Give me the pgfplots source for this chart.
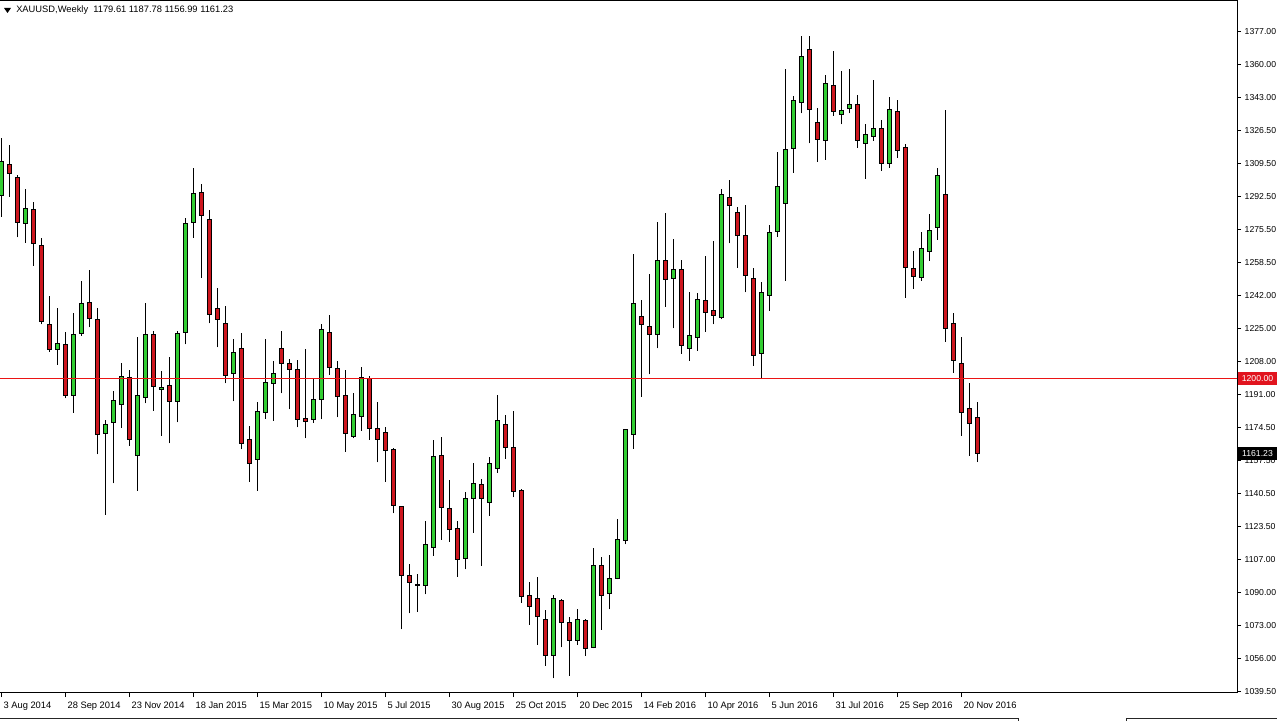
\documentclass[border=0pt]{standalone}
\usepackage{pgfplots}
\pgfplotsset{compat=1.18}
\usepackage{pgfplotstable}
\usepackage{fontspec}
\setmainfont{Liberation Sans}
\definecolor{bull}{RGB}{50,205,50}
\definecolor{bear}{RGB}{205,22,30}
\definecolor{hline}{RGB}{235,20,20}
\definecolor{hbox}{RGB}{225,20,30}

\pgfplotstableread{
i O H L C
0 1293.13 1322.79 1282.39 1310.67
1 1308.98 1319.21 1292.77 1304.74
2 1302.70 1303.87 1272.01 1279.68
3 1279.17 1296.56 1269.25 1286.84
4 1285.97 1290.22 1257.33 1268.94
5 1267.56 1271.50 1227.52 1228.85
6 1227.52 1241.99 1213.51 1214.38
7 1214.73 1235.70 1206.70 1217.80
8 1217.29 1223.43 1189.68 1191.00
9 1191.00 1233.14 1182.31 1222.40
10 1222.92 1249.66 1221.69 1238.26
11 1238.77 1255.29 1225.98 1230.59
12 1230.08 1235.70 1161.04 1170.91
13 1171.42 1178.58 1130.00 1176.38
14 1177.40 1193.41 1146.20 1188.45
15 1186.25 1207.88 1174.64 1200.72
16 1200.41 1204.15 1165.28 1168.71
17 1160.17 1220.87 1142.42 1190.85
18 1190.19 1238.57 1187.12 1222.40
19 1222.40 1224.09 1183.34 1195.61
20 1193.92 1203.79 1170.40 1195.10
21 1195.97 1210.95 1166.67 1188.04
22 1188.14 1224.09 1177.40 1222.56
23 1223.43 1281.73 1217.29 1279.17
24 1279.68 1307.45 1271.81 1294.15
25 1295.02 1299.27 1251.35 1283.26
26 1281.22 1285.97 1228.03 1232.63
27 1235.70 1245.93 1215.76 1229.72
28 1228.03 1237.03 1197.35 1201.44
29 1202.46 1220.00 1188.14 1213.20
30 1215.24 1222.92 1163.59 1166.67
31 1168.71 1175.51 1147.02 1156.44
32 1158.48 1187.63 1142.42 1182.83
33 1182.52 1219.85 1179.09 1197.86
34 1197.35 1208.75 1178.22 1202.46
35 1215.24 1224.09 1192.23 1207.57
36 1207.57 1209.78 1184.05 1204.51
37 1204.51 1209.26 1174.84 1178.93
38 1179.44 1214.89 1169.22 1177.71
39 1178.58 1199.90 1177.20 1188.81
40 1188.81 1227.67 1178.93 1224.61
41 1223.43 1232.27 1201.59 1205.53
42 1205.02 1208.75 1179.96 1190.49
43 1190.85 1204.15 1162.37 1171.78
44 1170.04 1192.23 1169.22 1181.49
45 1180.27 1205.53 1172.95 1200.21
46 1199.90 1201.08 1168.35 1174.33
47 1174.33 1187.63 1156.95 1168.71
48 1172.29 1175.15 1147.02 1162.88
49 1163.24 1164.41 1130.87 1134.75
50 1134.24 1134.80 1071.54 1098.95
51 1098.95 1104.94 1079.73 1095.38
52 1094.00 1099.67 1080.55 1094.40
53 1093.84 1126.93 1089.45 1115.01
54 1113.48 1168.35 1109.18 1159.66
55 1160.17 1170.04 1117.21 1133.93
56 1133.42 1147.89 1116.34 1122.68
57 1123.19 1127.08 1098.44 1107.34
58 1107.85 1141.91 1102.22 1138.54
59 1138.54 1156.74 1120.94 1145.85
60 1145.34 1148.40 1103.91 1138.54
61 1136.49 1159.81 1129.64 1156.44
62 1153.52 1191.36 1151.63 1178.07
63 1176.02 1181.14 1158.63 1164.41
64 1164.62 1183.18 1139.05 1141.91
65 1142.27 1143.29 1085.15 1088.21
66 1088.58 1095.89 1073.74 1083.10
67 1087.04 1098.14 1063.51 1077.99
68 1076.80 1081.41 1052.78 1058.04
69 1058.04 1089.08 1046.48 1087.04
70 1086.17 1086.88 1062.34 1075.12
71 1075.12 1077.99 1047.66 1065.72
72 1065.72 1081.77 1063.51 1076.80
73 1075.79 1076.65 1057.88 1061.83
74 1062.14 1112.97 1061.83 1103.91
75 1103.91 1108.37 1071.19 1088.72
76 1089.95 1109.54 1081.77 1097.63
77 1097.27 1127.80 1097.11 1117.57
78 1116.70 1173.82 1115.01 1173.47
79 1170.91 1263.47 1163.75 1238.26
80 1231.41 1239.95 1190.34 1227.52
81 1226.14 1253.09 1201.95 1222.40
82 1222.40 1279.99 1215.24 1259.89
83 1259.89 1284.59 1236.52 1250.18
84 1250.69 1270.99 1225.47 1255.29
85 1255.29 1260.40 1212.33 1216.78
86 1215.24 1243.88 1208.75 1221.89
87 1220.87 1243.37 1214.02 1239.95
88 1239.43 1262.45 1223.74 1233.66
89 1234.32 1270.12 1227.52 1232.12
90 1231.10 1296.56 1230.08 1294.00
91 1292.47 1301.31 1268.94 1288.17
92 1284.80 1287.35 1256.46 1272.83
93 1272.68 1288.53 1243.88 1252.37
94 1250.69 1256.15 1206.35 1211.46
95 1212.69 1249.30 1199.90 1243.88
96 1242.15 1278.30 1234.47 1274.57
97 1274.88 1315.79 1272.32 1297.89
98 1289.40 1357.93 1249.66 1317.01
99 1317.53 1344.27 1305.05 1342.07
100 1341.05 1374.96 1335.42 1364.37
101 1368.15 1374.96 1320.08 1337.47
102 1330.82 1337.98 1310.67 1322.13
103 1321.41 1355.01 1311.54 1350.56
104 1349.74 1367.28 1334.20 1336.24
105 1334.91 1357.06 1329.80 1336.96
106 1337.98 1358.08 1335.42 1340.03
107 1340.03 1344.78 1317.83 1321.41
108 1320.08 1329.95 1301.82 1324.69
109 1323.46 1352.45 1321.41 1327.75
110 1327.75 1332.00 1306.07 1309.85
111 1309.85 1343.61 1307.61 1337.47
112 1336.24 1342.23 1312.72 1316.30
113 1317.83 1319.57 1241.12 1256.67
114 1256.15 1265.00 1245.57 1251.86
115 1251.56 1274.57 1249.66 1266.38
116 1264.64 1283.77 1259.89 1275.39
117 1277.12 1307.61 1270.63 1303.51
118 1293.64 1337.11 1218.62 1225.47
119 1228.03 1233.14 1202.77 1208.90
120 1207.57 1220.87 1170.55 1182.52
121 1184.56 1197.35 1160.32 1176.89
122 1179.61 1187.78 1156.99 1161.23
}\xau

\begin{document}
\begin{tikzpicture}[x=0.75pt,y=0.75pt,font=\fontsize{7}{8}\selectfont]
\path[use as bounding box] (0,0) rectangle (1277,721);
\begin{axis}[
  at={(0pt,540pt)}, anchor=north west,
  scale only axis, width=927.75pt, height=519pt,
  xmin=-0.1625, xmax=154.46, ymin=1038.96, ymax=1392.85,
  axis line style={black, line width=0.75pt},
  tick style={black, line width=0.75pt},
  tick align=outside, major tick length=3pt,
  xtick={0,8,...,120},
  xticklabels={3 Aug 2014,28 Sep 2014,23 Nov 2014,18 Jan 2015,15 Mar 2015,10 May 2015,5 Jul 2015,30 Aug 2015,25 Oct 2015,20 Dec 2015,14 Feb 2016,10 Apr 2016,5 Jun 2016,31 Jul 2016,25 Sep 2016,20 Nov 2016},
  xtick pos=bottom, ytick pos=right, yticklabel pos=right,
  ytick={1377.00,1360.12,1343.25,1326.37,1309.50,1292.62,1275.74,1258.87,1241.99,1225.12,1208.24,1191.36,1174.49,1157.61,1140.74,1123.86,1106.98,1090.11,1073.23,1056.36,1039.48},
  yticklabels={1377.00,1360.00,1343.00,1326.50,1309.50,1292.50,1275.50,1258.50,1242.00,1225.00,1208.00,1191.00,1174.50,1157.50,1140.50,1123.50,1107.00,1090.00,1073.00,1056.00,1039.50},
  xticklabel style={font=\fontsize{7}{8}\selectfont, anchor=north west, inner sep=0pt, xshift=1.5pt, yshift=-3.5pt},
  yticklabel style={font=\fontsize{6.5}{8}\selectfont, anchor=west, inner sep=0pt, xshift=2.6pt},
]
\pgfplotsforeachungrouped \rr in {0,...,122}{%
  \pgfplotstablegetelem{\rr}{O}\of\xau \let\vO\pgfplotsretval
  \pgfplotstablegetelem{\rr}{H}\of\xau \let\vH\pgfplotsretval
  \pgfplotstablegetelem{\rr}{L}\of\xau \let\vL\pgfplotsretval
  \pgfplotstablegetelem{\rr}{C}\of\xau \let\vC\pgfplotsretval
  \pgfplotstablegetelem{\rr}{i}\of\xau \let\vI\pgfplotsretval
  \pgfmathsetmacro\xa{\vI-0.25}%
  \pgfmathsetmacro\xb{\vI+0.25}%
  \ifdim\vC pt<\vO pt \def\col{bear}\else\def\col{bull}\fi
  \edef\cmd{%
    \noexpand\addplot[black, line width=0.75pt, forget plot] coordinates {(\vI,\vL) (\vI,\vH)};
    \noexpand\addplot[draw=black, fill=\col, line width=0.75pt, forget plot] coordinates {(\xa,\vO) (\xb,\vO) (\xb,\vC) (\xa,\vC)} -- cycle;
  }%
  \cmd
}
\addplot[hline, line width=0.8pt, forget plot] coordinates {(-1,1200) (160,1200)};
\coordinate (b1200) at (axis cs:154.46,1200);
\coordinate (b1161) at (axis cs:154.46,1161.23);
\end{axis}
\node[font=\fontsize{6.5}{8}\selectfont, fill=hbox, text=white, anchor=west, inner xsep=2.2pt, inner ysep=0pt, minimum height=9.75pt, minimum width=29.5pt, xshift=0.4pt] at (b1200) {1200.00};
\node[font=\fontsize{6.5}{8}\selectfont, fill=black, text=white, anchor=west, inner xsep=2.2pt, inner ysep=0pt, minimum height=9.75pt, minimum width=29.5pt, xshift=0.4pt] at (b1161) {1161.23};
\fill (4,713) -- (11,713) -- (7.5,708) -- cycle;
\node[anchor=west, inner sep=0pt] at (16,711) {XAUUSD,Weekly\ \ 1179.61 1187.78 1156.99 1161.23};
\draw[line width=0.75pt, black!85] (0,3) -- (1018,3) -- (1018,0);
\draw[line width=0.75pt, black!85] (1126,0) -- (1126,3) -- (1277,3);
\end{tikzpicture}
\end{document}
